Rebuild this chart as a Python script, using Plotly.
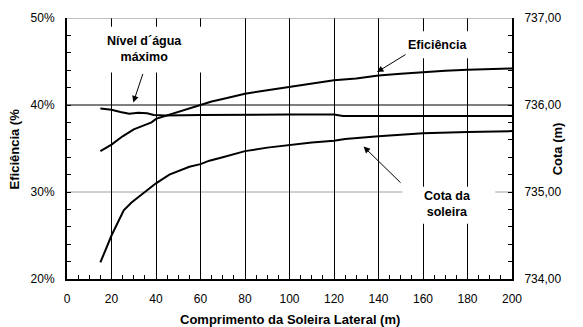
import plotly.graph_objects as go

# Comprimento da soleira lateral (m)
comp_ef = [15, 20, 25, 30, 36, 38, 40, 46, 50, 55, 60, 65, 70, 80, 90, 100, 110,
           120, 130, 140, 150, 160, 170, 180, 190, 200]
# Eficiência (%)
eficiencia = [34.7, 35.45, 36.4, 37.2, 37.8, 38.0, 38.4, 38.9, 39.2, 39.6, 40.0,
              40.4, 40.7, 41.3, 41.7, 42.1, 42.45, 42.85, 43.05, 43.4, 43.6, 43.8,
              43.95, 44.05, 44.12, 44.2]

comp_cota = [15, 20, 25.5, 29, 35, 40, 46, 50, 55, 60, 64, 70, 80, 90, 100, 110,
             120, 125, 140, 160, 180, 200]
# Cota da soleira (m)
cota_soleira = [734.19, 734.50, 734.79, 734.88, 735.00, 735.10, 735.20, 735.24,
                735.29, 735.32, 735.36, 735.40, 735.47, 735.51, 735.54, 735.57,
                735.59, 735.61, 735.64, 735.675, 735.69, 735.70]

comp_nivel = [15, 20, 24, 28, 32, 36, 39, 44, 60, 80, 100, 120, 124, 140, 200]
# Nível d'água máximo (m)
nivel_agua = [735.96, 735.945, 735.92, 735.90, 735.91, 735.905, 735.885, 735.88,
              735.885, 735.89, 735.89, 735.89, 735.875, 735.875, 735.875]

x_ticks = list(range(0, 201, 20))
y_ticks = [20, 30, 40, 50]
y_ticktext = ["20%", "30%", "40%", "50%"]
y2_ticks = [734, 735, 736, 737]

FONT = "Arial, Liberation Sans, sans-serif"
line_style = dict(color="black", width=2)

fig = go.Figure()
fig.add_trace(go.Scatter(x=comp_ef, y=eficiencia, mode="lines", line=line_style,
                         yaxis="y", showlegend=False))
fig.add_trace(go.Scatter(x=comp_cota, y=cota_soleira, mode="lines", line=line_style,
                         yaxis="y2", showlegend=False))
fig.add_trace(go.Scatter(x=comp_nivel, y=nivel_agua, mode="lines", line=line_style,
                         yaxis="y2", showlegend=False))

tick_font = dict(family=FONT, size=12, color="black")
title_font = dict(family=FONT, size=13, color="black")

fig.update_layout(
    width=583, height=327,
    margin=dict(l=67, r=71, t=18, b=48),
    paper_bgcolor="white", plot_bgcolor="white",
    separators=",.",
    font=dict(family=FONT, color="black"),
    xaxis=dict(
        range=[0, 200], tickvals=x_ticks, ticks="inside", ticklen=4,
        tickcolor="black", showline=True, linecolor="black", linewidth=2,
        showgrid=True, gridcolor="black", gridwidth=1, zeroline=False,
        tickfont=tick_font, ticklabelstandoff=8,
        minor=dict(dtick=5, ticks="inside", ticklen=4, tickcolor="black", showgrid=False),
    ),
    yaxis=dict(
        range=[20, 50], tickvals=y_ticks, ticktext=y_ticktext, ticks="inside", ticklen=4,
        tickcolor="black", showline=True, linecolor="black", linewidth=2,
        showgrid=False, zeroline=False, tickfont=tick_font, ticklabelstandoff=8,
        minor=dict(dtick=2, ticks="inside", ticklen=4, tickcolor="black", showgrid=False),
    ),
    yaxis2=dict(
        range=[734, 737], tickvals=y2_ticks, tickformat=".2f", overlaying="y",
        side="right", ticks="inside", ticklen=4, tickcolor="black", showline=True,
        linecolor="black", linewidth=2, showgrid=False, zeroline=False,
        tickfont=tick_font, ticklabelstandoff=8,
        minor=dict(dtick=0.2, ticks="inside", ticklen=4, tickcolor="black", showgrid=False),
    ),
)

# Horizontal reference lines and top border
fig.add_shape(type="line", xref="x", yref="y", x0=0, x1=200, y0=40, y1=40,
              line=dict(color="black", width=1.2), layer="below")
fig.add_shape(type="line", xref="x", yref="y", x0=0, x1=200, y0=30, y1=30,
              line=dict(color="#a0a0a0", width=1), layer="below")
fig.add_shape(type="line", xref="x", yref="y", x0=0, x1=200, y0=50, y1=50,
              line=dict(color="#808080", width=1), layer="above")

# White label boxes
for x0, x1, y0, y1 in [(14.1, 61.7, 43.74, 49.0), (148.9, 186.7, 45.36, 48.47),
                       (150.7, 192.5, 26.35, 30.61)]:
    fig.add_shape(type="rect", xref="x", yref="y", x0=x0, x1=x1, y0=y0, y1=y1,
                  fillcolor="white", line=dict(width=0), layer="above")

label_font = dict(family=FONT, size=12.5, color="black")
labels = [
    ("<b>Nível d´água</b><br><b>máximo</b>", 34.7, 46.45),
    ("<b>Eficiência</b>", 166.7, 46.85),
    ("<b>Cota da</b><br><b>soleira</b>", 171.1, 28.59),
]
for txt, x, y in labels:
    fig.add_annotation(text=txt, x=x, y=y, xref="x", yref="y", showarrow=False,
                       font=label_font, align="center", xanchor="center",
                       yanchor="middle")

arrows = [
    (29.8, 40.29, 34.3, 43.74),
    (139.3, 43.78, 152.8, 45.9),
    (133.3, 35.22, 150.6, 30.9),
]
for x, y, ax, ay in arrows:
    fig.add_annotation(text="", x=x, y=y, ax=ax, ay=ay, xref="x", yref="y",
                       axref="x", ayref="y", showarrow=True, arrowhead=2,
                       arrowsize=1.3, arrowwidth=1, arrowcolor="black")

# Axis titles
fig.add_annotation(text="<b>Eficiência (%</b>", xref="paper", yref="paper",
                   x=-0.117, y=0.5, textangle=-90, showarrow=False, font=title_font,
                   xanchor="center", yanchor="middle")
fig.add_annotation(text="<b>Cota (m)</b>", xref="paper", yref="paper",
                   x=1.103, y=0.5, textangle=-90, showarrow=False, font=title_font,
                   xanchor="center", yanchor="middle")
fig.add_annotation(text="<b>Comprimento da Soleira Lateral (m)</b>", xref="paper",
                   yref="paper", x=0.5, y=-0.157, showarrow=False, font=title_font,
                   xanchor="center", yanchor="middle")

fig.write_html("out.html")
